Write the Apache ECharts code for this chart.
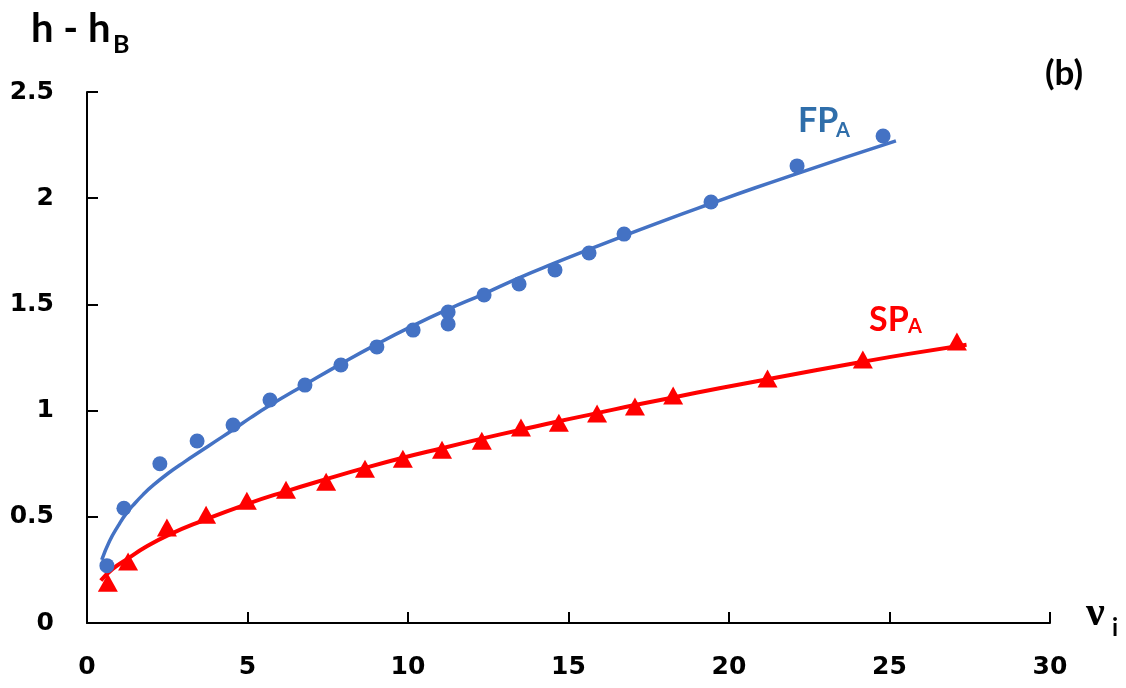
<!DOCTYPE html>
<html>
<head>
<meta charset="utf-8">
<script src="https://cdn.jsdelivr.net/npm/echarts@6/dist/echarts.min.js"></script>
<style>
  html, body { margin: 0; padding: 0; background: #ffffff; }
  #chart { width: 1126px; height: 688px; }
</style>
</head>
<body>
<div id="chart"></div>
<script>
// Axis ticks
const xTicks = [0, 5, 10, 15, 20, 25, 30];
const yTicks = [0, 0.5, 1, 1.5, 2, 2.5];

// FP_A measurements
const fpX = [0.62, 1.15, 2.27, 3.43, 4.55, 5.70, 6.79, 7.91, 9.03, 10.16, 11.25, 11.25, 12.37, 13.46, 14.58, 15.64, 16.73, 19.44, 22.12, 24.80];
const fpY = [0.27, 0.54, 0.75, 0.857, 0.932, 1.05, 1.12, 1.215, 1.30, 1.379, 1.408, 1.464, 1.544, 1.596, 1.662, 1.742, 1.831, 1.982, 2.152, 2.293];

// FP_A trend curve
const fpFitX = [0.46, 0.7, 0.98, 1.22, 1.5, 1.75, 2.01, 2.53, 3.05, 3.57, 4.0, 4.55, 5.1, 5.7, 6.79, 7.91, 9.03, 10.16, 11.25, 12.37, 13.46, 14.58, 15.64, 16.73, 18, 19.44, 20.8, 22.12, 23.6, 25.2];
const fpFitY = [0.297, 0.385, 0.46, 0.515, 0.565, 0.605, 0.642, 0.705, 0.76, 0.812, 0.855, 0.91, 0.967, 1.025, 1.122, 1.22, 1.313, 1.40, 1.477, 1.55, 1.625, 1.695, 1.759, 1.823, 1.896, 1.975, 2.048, 2.116, 2.191, 2.27];

// SP_A measurements
const spX = [0.65, 1.28, 2.49, 3.71, 4.98, 6.20, 7.45, 8.66, 9.84, 11.06, 12.30, 13.52, 14.70, 15.89, 17.07, 18.26, 21.20, 24.17, 27.10];
const spY = [0.19, 0.29, 0.45, 0.51, 0.575, 0.627, 0.665, 0.726, 0.773, 0.816, 0.858, 0.92, 0.943, 0.986, 1.019, 1.071, 1.151, 1.24, 1.325];

// SP_A trend curve
const spFitX = [0.43, 0.8, 1.29, 1.8, 2.53, 3.57, 4.98, 6.2, 7.45, 8.66, 9.84, 11.06, 12.3, 13.52, 14.7, 15.89, 17.07, 18.26, 19.7, 21.2, 22.7, 24.17, 25.6, 27.4];
const spFitY = [0.20, 0.255, 0.305, 0.355, 0.414, 0.48, 0.56, 0.62, 0.677, 0.73, 0.778, 0.823, 0.868, 0.91, 0.95, 0.988, 1.026, 1.062, 1.105, 1.148, 1.19, 1.23, 1.267, 1.31];

const zip = (xs, ys) => xs.map((x, i) => [x, ys[i]]);

const BLUE = '#4472C4';
const BLUE_TEXT = '#2F6EAA';
const RED = '#FF0000';
const tickFont = { fontFamily: 'DejaVu Sans', fontWeight: 'bold', fontSize: 25, color: '#000' };
const axisLine = { show: true, lineStyle: { color: '#000', width: 2 } };
const axisTick = { show: true, inside: true, length: 11, lineStyle: { color: '#000', width: 2 } };

const chart = echarts.init(document.getElementById('chart'), null, { renderer: 'canvas' });

chart.setOption({
  animation: false,
  backgroundColor: '#ffffff',
  grid: { left: 87, right: 76, top: 92, bottom: 65, containLabel: false },
  xAxis: {
    type: 'value',
    min: xTicks[0],
    max: xTicks[xTicks.length - 1],
    interval: xTicks[1] - xTicks[0],
    axisLine, axisTick,
    splitLine: { show: false },
    axisLabel: Object.assign({ margin: 32 }, tickFont)
  },
  yAxis: {
    type: 'value',
    min: yTicks[0],
    max: yTicks[yTicks.length - 1],
    interval: yTicks[1] - yTicks[0],
    axisLine, axisTick,
    splitLine: { show: false },
    axisLabel: Object.assign({ margin: 33 }, tickFont)
  },
  series: [
    {
      name: 'FP_A fit', type: 'line', data: zip(fpFitX, fpFitY),
      smooth: 0.5, showSymbol: false, z: 2,
      lineStyle: { color: BLUE, width: 3.5 }
    },
    {
      name: 'SP_A fit', type: 'line', data: zip(spFitX, spFitY),
      smooth: 0.5, showSymbol: false, z: 2,
      lineStyle: { color: RED, width: 4 }
    },
    {
      name: 'FP_A', type: 'scatter', data: zip(fpX, fpY),
      symbol: 'circle', symbolSize: 15, z: 3,
      itemStyle: { color: BLUE, opacity: 1 }
    },
    {
      name: 'SP_A', type: 'scatter', data: zip(spX, spY),
      symbol: 'triangle', symbolSize: [20, 18], z: 3,
      itemStyle: { color: RED, opacity: 1 }
    }
  ],
  graphic: [
    // y-axis title: h - h_B
    { type: 'text', x: 31, y: 29, style: { text: 'h - h', font: 'bold 40px Lato', fill: '#000', align: 'left', verticalAlign: 'middle' } },
    { type: 'text', x: 113, y: 45, style: { text: 'B', font: 'bold 25px Lato', fill: '#000', align: 'left', verticalAlign: 'middle' } },
    // panel tag
    { type: 'text', x: 1045, y: 74, style: { text: '(b)', font: 'bold 35px Lato', fill: '#000', align: 'left', verticalAlign: 'middle' } },
    // series tags
    { type: 'text', x: 798, y: 121, style: { text: 'FP', font: 'bold 34px Lato', fill: BLUE_TEXT, align: 'left', verticalAlign: 'middle' } },
    { type: 'text', x: 836, y: 131, style: { text: 'A', font: 'bold 20px Lato', fill: BLUE_TEXT, align: 'left', verticalAlign: 'middle' } },
    { type: 'text', x: 869, y: 320, style: { text: 'SP', font: 'bold 34px Lato', fill: RED, align: 'left', verticalAlign: 'middle' } },
    { type: 'text', x: 908, y: 327, style: { text: 'A', font: 'bold 20px Lato', fill: RED, align: 'left', verticalAlign: 'middle' } },
    // x-axis title: ν_i
    { type: 'text', x: 1086, y: 614, style: { text: 'ν', font: 'bold 42px "Liberation Serif"', fill: '#000', align: 'left', verticalAlign: 'middle' } },
    { type: 'text', x: 1112, y: 628, style: { text: 'i', font: 'bold 24px Lato', fill: '#000', align: 'left', verticalAlign: 'middle' } }
  ]
});
</script>
</body>
</html>
